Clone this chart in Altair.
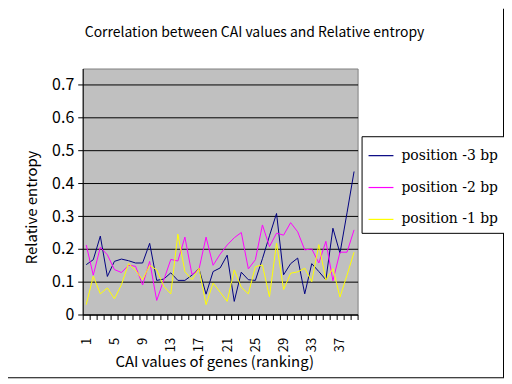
import altair as alt
import pandas as pd

# ---- data ----
ranks = list(range(1, 40))
pos_minus3 = [0.152, 0.167, 0.239, 0.116, 0.162, 0.169, 0.164, 0.157, 0.157, 0.217,
              0.104, 0.108, 0.127, 0.104, 0.104, 0.120, 0.140, 0.062, 0.131, 0.142,
              0.181, 0.040, 0.129, 0.106, 0.104, 0.170, 0.240, 0.308, 0.121, 0.155,
              0.172, 0.063, 0.155, 0.131, 0.106, 0.263, 0.187, 0.310, 0.436]
pos_minus2 = [0.212, 0.120, 0.205, 0.182, 0.137, 0.128, 0.150, 0.147, 0.090, 0.162,
              0.043, 0.105, 0.168, 0.163, 0.236, 0.122, 0.138, 0.236, 0.150, 0.184,
              0.212, 0.234, 0.250, 0.139, 0.167, 0.273, 0.207, 0.248, 0.242, 0.280,
              0.252, 0.197, 0.200, 0.157, 0.223, 0.103, 0.190, 0.190, 0.258]
pos_minus1 = [0.030, 0.117, 0.063, 0.081, 0.048, 0.091, 0.155, 0.135, 0.106, 0.150,
              0.136, 0.086, 0.063, 0.245, 0.131, 0.106, 0.141, 0.030, 0.096, 0.068,
              0.040, 0.136, 0.083, 0.063, 0.146, 0.151, 0.054, 0.218, 0.076, 0.126,
              0.130, 0.141, 0.100, 0.213, 0.105, 0.140, 0.053, 0.120, 0.190]
series_names = ["position -3 bp", "position -2 bp", "position -1 bp"]
series_colors = ["#000080", "#FF00FF", "#FFFF00"]
y_ticks = [0, 0.1, 0.2, 0.3, 0.4, 0.5, 0.6, 0.7]
x_label_ranks = [1, 5, 9, 13, 17, 21, 25, 29, 33, 37]
chart_title = "Correlation between CAI values and Relative entropy"
x_title = "CAI values of genes (ranking)"
y_title = "Relative entropy"

rows = []
for name, vals in zip(series_names, [pos_minus3, pos_minus2, pos_minus1]):
    for r, v in zip(ranks, vals):
        rows.append({"rank": r, "value": v, "series": name})
df = pd.DataFrame(rows)

W, H = 276, 247
n = len(ranks)
half_band = W / n / 2
GOTHIC = "Noto Sans CJK JP"

boundaries = [r - 0.5 for r in ranks] + [n + 0.5]
label_list = ",".join(str(v) for v in x_label_ranks)

x_enc = alt.X(
    "rank:Q",
    scale=alt.Scale(domain=[0.5, n + 0.5], nice=False, zero=False),
    axis=alt.Axis(
        values=boundaries,
        labelExpr=f"indexof([{label_list}], datum.value + 0.5) >= 0 ? '' + (datum.value + 0.5) : ''",
        labelAngle=270, labelAlign="right", labelBaseline="middle",
        labelOffset=half_band, labelPadding=18, labelFontSize=13,
        labelOverlap=False, labelFlush=False, labelBound=False,
        tickSize=5, grid=False,
        title=x_title, titleFontSize=15, titleFontWeight="normal",
        titleX=132, titleY=47, titleAlign="center", titleBaseline="middle",
    ),
)
y_enc = alt.Y(
    "value:Q",
    scale=alt.Scale(domain=[0, 0.75], nice=False, zero=True),
    axis=alt.Axis(
        values=y_ticks,
        labelExpr="datum.value == 0 ? '0' : format(datum.value, '.1f')",
        labelFontSize=16, labelPadding=4, tickSize=5,
        grid=True, gridColor="black", gridWidth=1, gridOpacity=1,
        title=y_title, titleFontSize=15, titleFontWeight="normal",
        titleAngle=270, titleX=-51, titleY=139,
        titleAlign="center", titleBaseline="middle",
    ),
)
color_enc = alt.Color(
    "series:N",
    scale=alt.Scale(domain=series_names, range=series_colors),
    legend=alt.Legend(
        title=None, orient="none", legendX=280, legendY=68, direction="vertical",
        symbolType="stroke", symbolSize=625, symbolStrokeWidth=1.2,
        labelFont="DejaVu Serif", labelFontSize=14, labelColor="black",
        labelOffset=7, strokeColor="black", fillColor="white",
        padding=6, rowPadding=11,
    ),
)

base = alt.Chart(df).mark_line(strokeWidth=1, clip=True).encode(
    x=x_enc, y=y_enc, color=color_enc
)
line_layers = [base.transform_filter(alt.datum.series == name) for name in series_names]

deco_df = pd.DataFrame({"t": [chart_title]})
title_mark = alt.Chart(deco_df).mark_text(
    font=GOTHIC, fontSize=14, color="black", align="center", baseline="middle"
).encode(text="t:N", x=alt.value(172.5), y=alt.value(-36))
frame_right = alt.Chart(deco_df).mark_rule(color="black", strokeWidth=1).encode(
    x=alt.value(422.5), y=alt.value(-60), y2=alt.value(310.5)
)
frame_bottom = alt.Chart(deco_df).mark_rule(color="black", strokeWidth=1).encode(
    x=alt.value(-75), x2=alt.value(423), y=alt.value(310.5)
)

chart = alt.layer(*line_layers, title_mark, frame_right, frame_bottom).properties(
    width=W, height=H,
    autosize=alt.AutoSizeParams(type="none"),
    padding={"left": 75, "top": 60, "right": 147, "bottom": 64},
    background="white",
).configure_view(
    fill="#C0C0C0", stroke="#808080", strokeWidth=1
).configure_axis(
    domainColor="black", tickColor="black", labelColor="black", titleColor="black",
    labelFont=GOTHIC, titleFont=GOTHIC,
)

chart.save("out.html", embed_options={"renderer": "svg", "actions": False})
